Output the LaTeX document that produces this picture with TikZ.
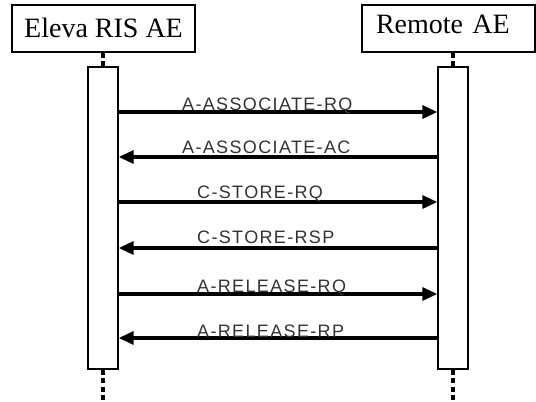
\documentclass[tikz,border=0pt]{standalone}
\usepackage{fontspec}
\setmainfont{Liberation Serif}
\newfontfamily\msgfont[LetterSpace=7.5]{Liberation Sans}
\usetikzlibrary{arrows.meta}

\begin{document}
\begin{tikzpicture}[x=1pt,y=-1pt,
	head/.style={draw, line width=1.4pt, font=\fontsize{28}{30}\selectfont, text height=18.5pt},
	act/.style={draw, line width=1.4pt, minimum width=30pt, minimum height=302pt},
	life/.style={line width=3.4pt, dash pattern=on 5pt off 3.5pt},
	msg/.style={line width=3.4pt, -{Triangle[length=15pt,width=13pt]}},
	]
	\useasboundingbox (0,0) rectangle (536,402);
	% heads of the two lifelines
	\node[head, minimum width=183pt, minimum height=47pt, text depth=0pt] (eleva) at (103.5,28.5) {Eleva RIS AE};
	\node[head, minimum height=47pt, text width=145pt, inner xsep=14pt, align=left, text depth=9.5pt] (remote) at (448.5,28.5) {Remote AE};
	% activation bars
	\node[act] (actL) at (103,218) {};
	\node[act] (actR) at (453,218) {};
	\coordinate (endL) at (actL.south |- 0,402);
	\coordinate (endR) at (actR.south |- 0,402);
	\draw[life] (actL.north |- eleva.south) -- (actL.north);
	\draw[life] (actR.north |- remote.south) -- (actR.north);
	\draw[life] (actL.south) -- (endL);
	\draw[life] (actR.south) -- (endR);
	% messages
	\foreach \y/\txt/\from/\to/\tx/\up [count=\i] in {112/A-ASSOCIATE-RQ/L/R/182/2, 157/A-ASSOCIATE-AC/R/L/182/4,
		202/C-STORE-RQ/L/R/197/4, 248/C-STORE-RSP/R/L/197/5, 294/A-RELEASE-RQ/L/R/197/2, 338/A-RELEASE-RP/R/L/197/1}{
		\coordinate (L\i) at (actL.east |- 0,\y);
		\coordinate (R\i) at (actR.west |- 0,\y);
		\draw[msg] (\from\i) -- (\to\i);
		\node[anchor=base west, inner sep=0pt, text=black!80, font=\msgfont\fontsize{18}{20}\selectfont] (m\i) at (\tx,\y-\up) {\txt};
	}
\end{tikzpicture}
\end{document}
